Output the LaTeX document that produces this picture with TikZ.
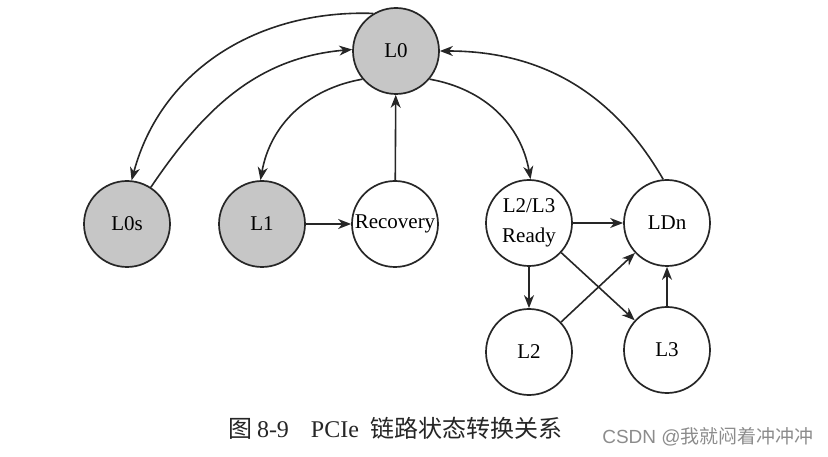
\documentclass[tikz,border=0pt]{standalone}
\usepackage{fontspec}
\setmainfont{Liberation Serif}
\newfontfamily\cjk{Noto Sans CJK SC}
\newfontfamily\wmfont{Liberation Sans}
\usetikzlibrary{arrows.meta}
\begin{document}
\begin{tikzpicture}[x=1pt,y=-1pt,
  st/.style={circle,draw=black!85,line width=1.7pt,minimum size=86pt,inner sep=0pt,
    font=\fontsize{21}{30}\selectfont,align=center},
  gst/.style={st,fill=gray!45},
  arr/.style={line width=1.6pt,draw=black!85,-{Stealth[length=13pt,width=10pt,inset=4pt]}},
  captext/.style={font=\fontsize{24}{28}\selectfont,text=black!85,inner sep=0pt},
  wm/.style={font=\fontsize{19}{21}\selectfont,text=black!45,inner sep=0pt}]
\useasboundingbox (0,0) rectangle (828,457);
\node[gst] (L0) at (396,51) {L0};
\node[gst] (L0s) at (127,224) {L0s};
\node[gst] (L1) at (262,224) {L1};
\node[st] (Rec) at (395,224) {Recovery};
\node[st] (Rdy) at (529,223) {L2/L3\\Ready};
\node[st] (LDn) at (667,223) {LDn};
\node[st] (L2) at (529,352) {L2};
\node[st] (L3) at (667,350) {L3};
% curved transitions
\draw[arr] (L0.121) to[out=178,in=75] (L0s.84);
\draw[arr] (L0s.57) to[out=56,in=185] (L0.178);
\draw[arr] (L0.220) to[out=190,in=80] (L1.92);
\draw[arr] (L0.320) to[out=-10,in=100] (Rdy.88);
\draw[arr] (LDn.95) to[out=120,in=0] (L0.0);
% straight transitions
\draw[arr] (L1) -- (Rec);
\draw[arr] (Rec) -- (L0);
\draw[arr] (Rdy) -- (LDn);
\draw[arr] (Rdy) -- (L2);
\draw[arr] (Rdy) -- (L3);
\draw[arr] (L2) -- (LDn);
\draw[arr] (L3) -- (LDn);
% caption
\node[captext] (caption) at (395.5,428) {{\cjk 图}\hspace{5pt}8-9\hspace{22pt}PCIe\hspace{12pt}{\cjk 链路状态转换关系}};
\node[wm] (wmark) at (708,437) {{\wmfont CSDN @}{\cjk 我就闷着冲冲冲}};
\end{tikzpicture}
\end{document}
